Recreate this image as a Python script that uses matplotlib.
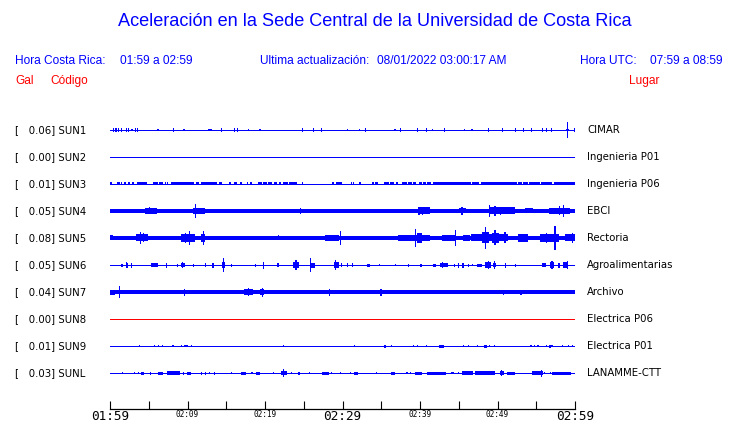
import matplotlib
matplotlib.use("Agg")
import matplotlib.pyplot as plt
import matplotlib.transforms as mtrans

# station codes, peak values (Gal) and places
codes = ["SUN1", "SUN2", "SUN3", "SUN4", "SUN5", "SUN6", "SUN7", "SUN8", "SUN9", "SUNL"]
peaks = [0.06, 0.00, 0.01, 0.05, 0.08, 0.05, 0.04, 0.00, 0.01, 0.03]
places = ["CIMAR", "Ingenieria P01", "Ingenieria P06", "EBCI", "Rectoria",
          "Agroalimentarias", "Archivo", "Electrica P06", "Electrica P01", "LANAMME-CTT"]
trace_colors = ["blue"] * 7 + ["red"] + ["blue"] * 2

# background noise level of each trace (half amplitude, arbitrary units)
base_level = [0, 0, 0, 1.55, 2.0, 0, 1.55, 0, 0, 0]

# bursts: (start minute, end minute, half amplitude)
sun1 = [(0.4, 0.55, 1.7), (0.7, 0.85, 1.7), (1.05, 1.2, 1.7), (1.4, 1.55, 1.7), (2.0, 2.15, 1.7),
        (2.35, 2.5, 1.7), (2.7, 3.0, 1.3), (3.2, 3.35, 1.7), (3.45, 3.6, 1.7), (6.0, 6.3, 1.3),
        (8.1, 8.25, 1.7), (9.4, 9.7, 1.3), (12.7, 13.15, 1.3), (14.35, 14.5, 1.7), (16.0, 16.15, 1.7),
        (16.4, 16.55, 1.7), (17.8, 17.95, 1.0), (19.25, 19.5, 1.3), (24.8, 24.95, 1.7), (26.2, 26.35, 1.7),
        (27.25, 27.4, 1.7), (30.6, 30.75, 1.0), (32.15, 32.3, 1.0), (32.9, 33.05, 1.7), (36.65, 36.95, 1.3),
        (37.45, 37.6, 1.7), (39.65, 39.8, 1.7), (40.8, 40.95, 1.7), (41.55, 41.7, 1.0), (43.1, 43.25, 1.7),
        (45.7, 45.85, 1.0), (46.55, 46.85, 1.3), (48.8, 48.95, 1.7), (50.6, 50.75, 1.7), (52.3, 52.45, 1.7),
        (53.25, 53.4, 1.7), (54.35, 54.5, 1.7), (55.75, 55.9, 1.7), (56.3, 56.45, 1.7), (56.9, 57.05, 1.7),
        (58.85, 59.25, 1.3), (58.95, 59.1, 8.0), (59.85, 60.0, 1.7)]
sun2 = []
sun3 = [(0, 0.3, 1.5), (0.86, 1.29, 1.5), (1.42, 1.6, 1.5), (1.8, 2.11, 1.5), (2.37, 2.62, 1.5),
        (2.8, 3.1, 1.5), (3.3, 3.4, 1.5), (3.53, 4.73, 1.5), (5.59, 6.24, 1.5), (6.37, 6.9, 1.5),
        (7.1, 7.2, 1.5), (7.35, 7.53, 1.5), (7.87, 10.88, 1.5), (11.05, 11.53, 1.5), (11.7, 13.76, 1.5),
        (14.06, 14.41, 1.5), (15.35, 15.61, 1.5), (16.0, 16.34, 1.5), (16.77, 16.99, 1.5), (17.68, 17.85, 1.5),
        (18.05, 18.37, 1.5), (19.14, 19.57, 1.5), (19.78, 20.22, 1.5), (20.43, 20.95, 1.5), (21.2, 21.5, 1.5),
        (21.8, 22.06, 1.5), (22.37, 23.0, 1.5), (23.1, 24.17, 1.5), (24.8, 24.9, 1.5), (28.6, 28.9, 1.5),
        (29.1, 29.98, 1.5), (31.1, 31.2, 1.5), (31.4, 31.5, 1.5), (32.17, 32.4, 1.5), (32.6, 32.7, 1.5),
        (33.76, 34.0, 1.5), (34.2, 34.54, 1.5), (35.4, 36.0, 1.5), (36.15, 36.7, 1.5), (36.9, 37.2, 1.5),
        (37.72, 38.3, 1.5), (38.4, 39.0, 1.5), (39.1, 39.44, 1.5), (39.9, 40.2, 1.5), (40.35, 40.8, 1.5),
        (40.95, 41.42, 1.5), (41.63, 46.58, 1.5), (46.67, 47.66, 1.5), (47.83, 52.56, 1.5), (52.69, 53.1, 1.5),
        (53.25, 53.9, 1.5), (54.1, 55.5, 1.5), (55.6, 57.08, 1.5), (57.33, 60, 1.5)]
sun4 = [(0.0, 0.6, 2.0), (4.5, 6.0, 3.0), (5.0, 5.2, 3.5), (10.75, 12.25, 3.0), (11.0, 11.15, 6.7),
        (12.5, 13.8, 2.0), (24.55, 24.7, 3.0), (39.8, 41.3, 3.5), (39.8, 39.95, 4.3), (40.2, 40.35, 4.0),
        (45.0, 45.9, 2.5), (45.35, 45.5, 4.0), (48.9, 52.3, 3.5), (48.85, 49.0, 6.3), (49.6, 49.75, 5.0),
        (50.3, 50.45, 4.0), (53.5, 54.6, 2.5), (56.7, 59.3, 3.0), (57.9, 58.05, 4.5), (58.45, 58.6, 6.3),
        (58.7, 60.0, 2.0)]
sun5 = [(0.0, 0.4, 2.5), (3.4, 4.95, 3.5), (3.9, 4.05, 6.0), (4.3, 4.45, 4.5), (9.2, 11.0, 4.0),
        (10.2, 10.35, 7.0), (9.7, 9.85, 5.0), (11.8, 12.3, 4.0), (11.95, 12.1, 6.7), (21.65, 21.8, 2.5),
        (22.6, 23.4, 2.3), (27.8, 29.6, 2.8), (29.65, 29.8, 7.0), (34.35, 34.5, 2.3), (37.2, 41.3, 3.0),
        (39.35, 39.5, 8.7), (39.6, 40.2, 5.0), (42.8, 44.5, 2.8), (44.55, 44.7, 7.8), (45.6, 46.5, 3.0),
        (46.6, 51.3, 3.5), (48.0, 48.9, 5.5), (48.35, 48.5, 11.0), (49.3, 50.2, 5.0), (49.6, 49.75, 7.5),
        (50.9, 51.05, 5.5), (52.7, 54.0, 3.8), (55.5, 57.9, 3.8), (56.3, 56.45, 5.0), (57.35, 57.5, 11.7),
        (58.7, 60.0, 3.5), (59.6, 59.75, 5.0)]
sun6 = [(1.42, 1.72, 1.5), (2.0, 2.3, 2.5), (2.05, 2.2, 3.0), (2.75, 2.9, 2.5), (5.25, 6.15, 2.0),
        (7.25, 7.4, 2.5), (8.65, 8.8, 1.5), (9.1, 9.7, 2.0), (9.3, 9.45, 3.0), (10.7, 10.85, 1.5),
        (12.25, 12.4, 2.0), (13.2, 13.45, 2.5), (14.4, 14.85, 3.0), (14.55, 14.7, 6.7), (15.55, 15.7, 1.5),
        (18.65, 18.8, 1.5), (19.75, 19.9, 3.5), (21.6, 21.8, 2.0), (23.6, 24.4, 3.0), (23.9, 24.1, 5.0),
        (25.75, 26.4, 2.5), (25.85, 26.0, 7.3), (28.9, 29.5, 3.0), (29.0, 29.15, 5.0), (29.85, 30.0, 2.0),
        (30.6, 30.75, 2.0), (31.25, 31.4, 2.0), (33.1, 33.5, 1.5), (34.7, 34.85, 1.0), (36.75, 36.9, 1.0),
        (38.45, 38.6, 1.5), (40.05, 40.2, 1.5), (41.7, 42.0, 1.5), (42.6, 43.65, 2.0), (42.8, 42.95, 3.0),
        (44.35, 44.5, 1.5), (44.85, 45.0, 2.5), (45.45, 45.65, 2.5), (46.15, 46.3, 1.5), (46.75, 46.9, 1.0),
        (47.3, 48.0, 1.5), (48.4, 49.1, 3.0), (48.75, 48.9, 4.0), (49.45, 49.85, 2.0), (49.55, 49.7, 4.0),
        (50.95, 51.15, 2.5), (52.25, 52.4, 1.5), (55.8, 56.2, 2.0), (56.75, 57.3, 3.0), (56.95, 57.1, 4.0),
        (57.8, 58.1, 2.5), (58.5, 59.1, 3.0), (58.95, 59.1, 4.0)]
sun7 = [(0.0, 0.65, 2.5), (0.65, 2.5, 2.0), (1.1, 1.25, 6.0), (3.7, 4.1, 2.0), (9.5, 9.65, 3.5),
        (12.3, 13.5, 2.0), (14.95, 15.1, 2.0), (17.3, 18.4, 2.8), (17.8, 17.95, 4.0), (19.3, 19.9, 2.8),
        (19.55, 19.7, 4.5), (28.25, 28.4, 3.5), (33.5, 33.8, 2.0), (34.9, 35.05, 3.5), (40.0, 41.0, 2.2),
        (42.35, 42.5, 2.0), (50.75, 50.9, 2.5), (52.95, 53.1, 2.5), (58.7, 60.0, 2.0)]
sun8 = []
sun9 = [(3.75, 3.9, 1.2), (5.65, 5.8, 1.2), (6.15, 6.3, 1.2), (6.75, 6.9, 1.2), (8.05, 8.2, 1.2),
        (9.15, 9.3, 1.2), (9.5, 10.0, 1.2), (10.45, 10.6, 1.2), (22.35, 22.5, 1.2), (31.45, 31.6, 1.2),
        (35.3, 35.6, 1.5), (36.25, 36.4, 1.0), (39.05, 39.2, 1.0), (39.55, 39.7, 1.0), (40.75, 40.9, 1.0),
        (42.5, 43.1, 1.5), (45.55, 45.7, 1.0), (46.15, 46.3, 1.0), (47.35, 47.5, 1.0), (48.3, 48.6, 1.5),
        (48.85, 49.0, 1.2), (49.55, 49.7, 1.2), (54.25, 54.4, 1.2), (54.65, 54.8, 1.2), (55.15, 55.3, 1.2),
        (56.25, 56.4, 1.0), (56.65, 56.9, 1.5), (56.95, 57.1, 1.0), (58.35, 58.5, 1.0), (59.05, 59.2, 1.0),
        (59.65, 59.8, 1.0)]
sunl = [(1.55, 1.7, 1.0), (3.05, 3.2, 1.0), (3.65, 3.8, 1.0), (4.0, 4.4, 1.5), (5.15, 5.3, 1.5),
        (6.2, 6.9, 1.5), (7.3, 9.0, 1.7), (9.45, 9.6, 1.5), (9.9, 10.5, 1.5), (11.75, 11.9, 1.5),
        (12.25, 12.4, 1.5), (12.75, 12.9, 1.0), (13.45, 13.6, 1.5), (15.65, 15.8, 1.2), (16.9, 17.5, 1.5),
        (18.25, 18.4, 1.0), (18.8, 19.4, 1.5), (21.05, 21.2, 1.0), (22.1, 22.9, 1.7), (22.35, 22.5, 4.0),
        (23.35, 23.5, 1.0), (24.2, 24.5, 1.5), (25.65, 25.8, 1.0), (27.3, 28.2, 1.5), (28.55, 28.7, 1.2),
        (29.65, 29.8, 1.2), (30.95, 31.1, 1.0), (31.5, 32.0, 1.5), (34.35, 34.5, 1.2), (36.3, 36.8, 1.5),
        (38.25, 38.4, 1.2), (38.75, 38.9, 1.2), (39.3, 40.2, 1.5), (40.9, 43.4, 1.5), (44.05, 44.35, 1.2),
        (44.85, 45.0, 1.2), (45.4, 46.9, 1.7), (47.1, 49.7, 1.7), (50.3, 50.8, 1.7), (50.45, 50.6, 3.0),
        (51.2, 52.3, 1.5), (54.4, 55.9, 1.7), (55.55, 55.7, 3.5), (55.95, 56.1, 1.2), (56.75, 56.9, 1.2),
        (57.0, 59.5, 1.5)]
bursts = [sun1, sun2, sun3, sun4, sun5, sun6, sun7, sun8, sun9, sunl]

tick_minutes = list(range(0, 61, 5))
tick_labels = ["01:59", "", "02:09", "", "02:19", "", "02:29", "", "02:39", "", "02:49", "", "02:59"]
big_labels = ["01:59", "02:29", "02:59"]

W, H = 740, 423
fig = plt.figure(figsize=(W / 100, H / 100), dpi=100)
ax = fig.add_axes([110 / W, 14 / H, 465 / W, 294 / H])
spacing = 27.0

for i in range(len(codes)):
    off = -spacing * i
    col = trace_colors[i]
    ax.plot([0, 60], [off, off], color=col, lw=0.72, solid_capstyle="butt", antialiased=False)
    if base_level[i] > 0:
        b = base_level[i]
        ax.bar(0, 2 * b, width=60, bottom=off - b, align="edge", color=col, lw=0, antialiased=False)
    for t0, t1, a in bursts[i]:
        ax.bar(t0, 2 * a, width=t1 - t0, bottom=off - a, align="edge", color=col, lw=0, antialiased=False)

ax.set_xlim(0, 60)
ax.set_ylim(-279, 15)
for s in ["top", "left", "right"]:
    ax.spines[s].set_visible(False)
ax.spines["bottom"].set_linewidth(0.9)
ax.set_yticks([])
ax.set_xticks(tick_minutes)
ax.set_xticklabels(tick_labels)
ax.tick_params(axis="x", direction="in", length=5.8, width=0.8, pad=1.0)
for lab in ax.get_xticklabels():
    lab.set_family("DejaVu Sans Mono")
    if lab.get_text() in big_labels:
        lab.set_fontsize(9.2)
    else:
        lab.set_fontsize(5.6)

# station labels on both sides
tr = mtrans.blended_transform_factory(fig.transFigure, ax.transData)
for i in range(len(codes)):
    off = -spacing * i
    ax.text(15 / W, off, "[   %.2f] %s" % (peaks[i], codes[i]), transform=tr,
            fontsize=7.3, va="center", ha="left", family="DejaVu Sans")
    ax.text(587 / W, off, places[i], transform=tr,
            fontsize=7.3, va="center", ha="left", family="DejaVu Sans")

sans = "Liberation Sans"
fig.text(375 / W, 1 - 22 / H, "Aceleración en la Sede Central de la Universidad de Costa Rica",
         color="blue", fontsize=13.1, family=sans, ha="center", va="center")
head = [(15, "Hora Costa Rica:"), (120, "01:59 a 02:59"), (260, "Ultima actualización:"),
        (377, "08/01/2022 03:00:17 AM"), (580, "Hora UTC:"), (650, "07:59 a 08:59")]
for x, s in head:
    fig.text(x / W, 1 - 61 / H, s, color="blue", fontsize=8.6, family=sans, ha="left", va="center")
for x, s in [(15, "Gal"), (50, "Código"), (629, "Lugar")]:
    fig.text(x / W, 1 - 81 / H, s, color="red", fontsize=8.6, family=sans, ha="left", va="center")

fig.savefig("out.png", dpi=100, facecolor="white")
